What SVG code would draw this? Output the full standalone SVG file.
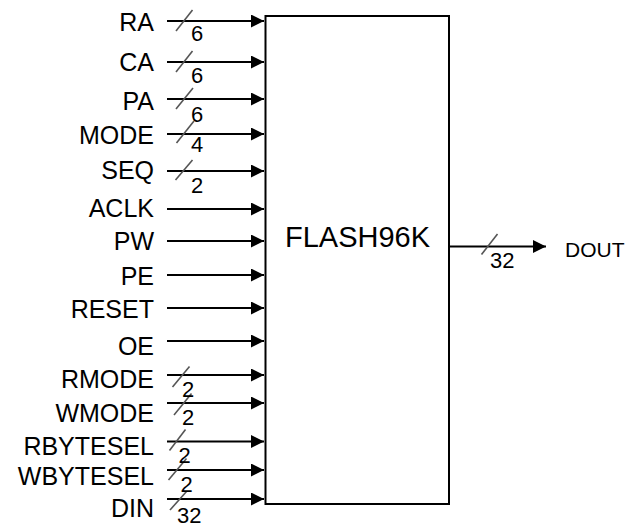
<svg xmlns="http://www.w3.org/2000/svg" width="629" height="525" viewBox="0 0 629 525">
<style>
.lbl{font-family:"Liberation Sans",Arial,sans-serif;font-size:25px;fill:#000;text-anchor:end}
.bw{font-family:"Liberation Sans",Arial,sans-serif;font-size:22px;fill:#000}
.sig{stroke:#000;stroke-width:2;fill:none}
.sl{stroke:#555;stroke-width:1.6}
</style>
<defs>
<marker id="ah" markerUnits="userSpaceOnUse" markerWidth="14" markerHeight="14" refX="13" refY="6.5" orient="auto">
<path d="M0,0 L13,6.5 L0,13 z" fill="#000"/>
</marker>
</defs>
<g id="FLASH96K">
<rect x="265.5" y="16" width="183.5" height="488" fill="#fff" stroke="#000" stroke-width="2"/>
<text x="285" y="246.5" style="font-family:'Liberation Sans',Arial,sans-serif;font-size:29px">FLASH96K</text>
</g>
<g id="labels">
<text class="lbl" x="154" y="31">RA</text>
<text class="lbl" x="154" y="71">CA</text>
<text class="lbl" x="154" y="110">PA</text>
<text class="lbl" x="154" y="144">MODE</text>
<text class="lbl" x="154" y="179">SEQ</text>
<text class="lbl" x="154" y="217">ACLK</text>
<text class="lbl" x="154" y="250">PW</text>
<text class="lbl" x="154" y="285">PE</text>
<text class="lbl" x="154" y="318">RESET</text>
<text class="lbl" x="154" y="355">OE</text>
<text class="lbl" x="154" y="388">RMODE</text>
<text class="lbl" x="154" y="421.5">WMODE</text>
<text class="lbl" x="154" y="455">RBYTESEL</text>
<text class="lbl" x="154" y="485">WBYTESEL</text>
<text class="lbl" x="154" y="516.5">DIN</text>
<text x="565" y="256.5" style="font-family:'Liberation Sans',Arial,sans-serif;font-size:21px">DOUT</text>
</g>
<g id="connectors">
<line class="sig" x1="167" y1="21" x2="264" y2="21" marker-end="url(#ah)"/>
<line class="sig" x1="167" y1="62" x2="264" y2="62" marker-end="url(#ah)"/>
<line class="sig" x1="167" y1="99" x2="264" y2="99" marker-end="url(#ah)"/>
<line class="sig" x1="167" y1="134" x2="264" y2="134" marker-end="url(#ah)"/>
<line class="sig" x1="167" y1="171" x2="264" y2="171" marker-end="url(#ah)"/>
<line class="sig" x1="167" y1="209" x2="264" y2="209" marker-end="url(#ah)"/>
<line class="sig" x1="167" y1="241" x2="264" y2="241" marker-end="url(#ah)"/>
<line class="sig" x1="167" y1="275" x2="264" y2="275" marker-end="url(#ah)"/>
<line class="sig" x1="167" y1="308" x2="264" y2="308" marker-end="url(#ah)"/>
<line class="sig" x1="167" y1="341" x2="264" y2="341" marker-end="url(#ah)"/>
<line class="sig" x1="167" y1="375" x2="264" y2="375" marker-end="url(#ah)"/>
<line class="sig" x1="167" y1="403" x2="264" y2="403" marker-end="url(#ah)"/>
<line class="sig" x1="167" y1="441.5" x2="264" y2="441.5" marker-end="url(#ah)"/>
<line class="sig" x1="167" y1="470" x2="264" y2="470" marker-end="url(#ah)"/>
<line class="sig" x1="167" y1="499" x2="264" y2="499" marker-end="url(#ah)"/>
<line class="sig" x1="450" y1="246.5" x2="546" y2="246.5" marker-end="url(#ah)"/>
</g>
<g id="bus-marks">
<line class="sl" x1="176" y1="31" x2="192.5" y2="10"/>
<line class="sl" x1="176" y1="72" x2="192.5" y2="51"/>
<line class="sl" x1="176" y1="109" x2="193" y2="88"/>
<line class="sl" x1="176.5" y1="143" x2="194" y2="121"/>
<line class="sl" x1="175.5" y1="180" x2="192.5" y2="160"/>
<line class="sl" x1="172.5" y1="387" x2="189.5" y2="366.5"/>
<line class="sl" x1="174" y1="415" x2="191.5" y2="393.5"/>
<line class="sl" x1="169.5" y1="450.5" x2="185.5" y2="429.5"/>
<line class="sl" x1="168.5" y1="480" x2="186.5" y2="458.5"/>
<line class="sl" x1="170" y1="510" x2="186.5" y2="491.5"/>
<line class="sl" x1="481.5" y1="254.5" x2="497.5" y2="234"/>
<text class="bw" x="191" y="41">6</text>
<text class="bw" x="191" y="82.5">6</text>
<text class="bw" x="191" y="121.5">6</text>
<text class="bw" x="191" y="151.5">4</text>
<text class="bw" x="191" y="193">2</text>
<text class="bw" x="182" y="396.5">2</text>
<text class="bw" x="182" y="425">2</text>
<text class="bw" x="178.5" y="463">2</text>
<text class="bw" x="180.5" y="491.5">2</text>
<text class="bw" x="177" y="522.5">32</text>
<text class="bw" x="490" y="268">32</text>
</g>
</svg>
